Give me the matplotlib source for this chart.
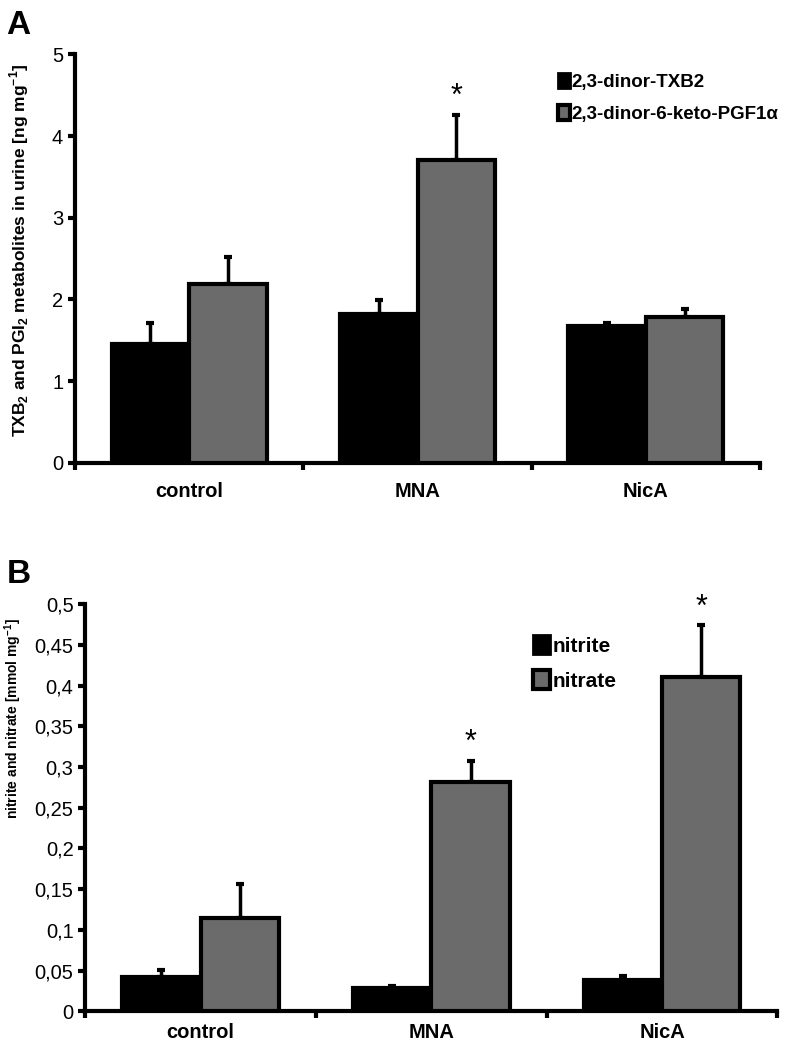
import numpy as np
import matplotlib
matplotlib.use('Agg')
import matplotlib.pyplot as plt
from matplotlib.patches import Patch

plt.rcParams['font.family'] = ['Liberation Sans', 'DejaVu Sans']
plt.rcParams['font.weight'] = 'bold'
plt.rcParams['mathtext.fontset'] = 'custom'
plt.rcParams['mathtext.rm'] = 'Liberation Sans'
plt.rcParams['mathtext.bf'] = 'Liberation Sans:bold'

# data
groups = ['control', 'MNA', 'NicA']
txb = [1.45, 1.82, 1.67]
txb_err = [0.26, 0.17, 0.04]
pgf = [2.19, 3.71, 1.79]
pgf_err = [0.33, 0.55, 0.09]
star_a = [False, True, False]

nitrite = [0.042, 0.029, 0.038]
nitrite_err = [0.009, 0.002, 0.006]
nitrate = [0.115, 0.282, 0.41]
nitrate_err = [0.042, 0.026, 0.064]
star_b = [False, True, True]

b_ticks = [0, 0.05, 0.1, 0.15, 0.2, 0.25, 0.3, 0.35, 0.4, 0.45, 0.5]
b_ticklabels = ['0', '0,05', '0,1', '0,15', '0,2', '0,25', '0,3', '0,35', '0,4', '0,45', '0,5']

GRAY = '#6b6b6b'
LW = 3

fig = plt.figure(figsize=(7.9, 10.47), dpi=100)
axA = fig.add_axes([0.095, 0.558, 0.867, 0.390])
axB = fig.add_axes([0.108, 0.034, 0.876, 0.389])


def draw_panel(ax, s1, e1, s2, e2, stars, ymax, star_off, xpad):
    x = np.arange(len(groups))
    w = 0.34
    ax.bar(x - w / 2, s1, w, color='black', edgecolor='black', linewidth=LW, zorder=3)
    ax.bar(x + w / 2, s2, w, color=GRAY, edgecolor='black', linewidth=LW, zorder=3)
    ax.errorbar(x - w / 2, s1, yerr=[np.zeros(3), e1], fmt='none', ecolor='black',
                elinewidth=2.5, capsize=3, capthick=3, zorder=2)
    ax.errorbar(x + w / 2, s2, yerr=[np.zeros(3), e2], fmt='none', ecolor='black',
                elinewidth=2.5, capsize=3, capthick=3, zorder=2)
    for i, st in enumerate(stars):
        if st:
            ax.text(x[i] + w / 2, s2[i] + e2[i] + star_off, '*', ha='center', va='bottom',
                    fontsize=22, fontweight='normal')
    ax.set_xlim(-0.5, 2.5)
    ax.set_ylim(0, ymax)
    ax.set_xticks([-0.5, 0.5, 1.5, 2.5])
    ax.set_xticklabels([])
    ax.set_xticks(x, minor=True)
    ax.set_xticklabels(groups, minor=True, fontsize=14.5, fontweight='bold')
    ax.tick_params(axis='x', which='minor', length=0, pad=xpad)
    ax.tick_params(axis='x', which='major', length=5, width=LW, direction='out')
    ax.tick_params(axis='y', length=5, width=LW, direction='out', labelsize=14.5)
    for sp in ['top', 'right']:
        ax.spines[sp].set_visible(False)
    for sp in ['left', 'bottom']:
        ax.spines[sp].set_linewidth(LW)


draw_panel(axA, txb, txb_err, pgf, pgf_err, star_a, 5, 0.04, 14)
axA.set_yticks([0, 1, 2, 3, 4, 5])
for lab in axA.get_yticklabels():
    lab.set_fontweight('normal')
axA.set_ylabel('TXB$_{\\mathbf{2}}$ and PGI$_{\\mathbf{2}}$ metabolites in urine [ng mg$^{\\mathbf{-1}}$]',
               fontsize=12.5, fontweight='bold')
axA.yaxis.set_label_coords(-0.064, 0.52)
axA.legend(handles=[Patch(facecolor='black', edgecolor='black', linewidth=2),
                    Patch(facecolor=GRAY, edgecolor='black', linewidth=3)],
           labels=['2,3-dinor-TXB2', '2,3-dinor-6-keto-PGF1α'],
           loc='upper left', bbox_to_anchor=(0.68, 0.995), frameon=False,
           handlelength=0.65, handleheight=0.85, handletextpad=0.1, labelspacing=0.75,
           prop={'size': 13.5, 'weight': 'bold'})

draw_panel(axB, nitrite, nitrite_err, nitrate, nitrate_err, star_b, 0.5, 0.003, 8)
axB.set_yticks(b_ticks)
axB.set_yticklabels(b_ticklabels, fontweight='normal')
axB.set_ylabel('nitrite and nitrate [mmol mg$^{\\mathbf{-1}}$]', fontsize=10, fontweight='bold')
axB.yaxis.set_label_coords(-0.088, 0.72)
axB.legend(handles=[Patch(facecolor='black', edgecolor='black', linewidth=2),
                    Patch(facecolor=GRAY, edgecolor='black', linewidth=3)],
           labels=['nitrite', 'nitrate'],
           loc='upper left', bbox_to_anchor=(0.62, 0.97), frameon=False,
           handlelength=0.8, handleheight=1.0, handletextpad=0.15, labelspacing=0.7,
           prop={'size': 15, 'weight': 'bold'})

fig.text(0.008, 0.99, 'A', fontsize=24, fontweight='bold', va='top')
fig.text(0.008, 0.466, 'B', fontsize=24, fontweight='bold', va='top')

fig.savefig('out.png', dpi=100)
